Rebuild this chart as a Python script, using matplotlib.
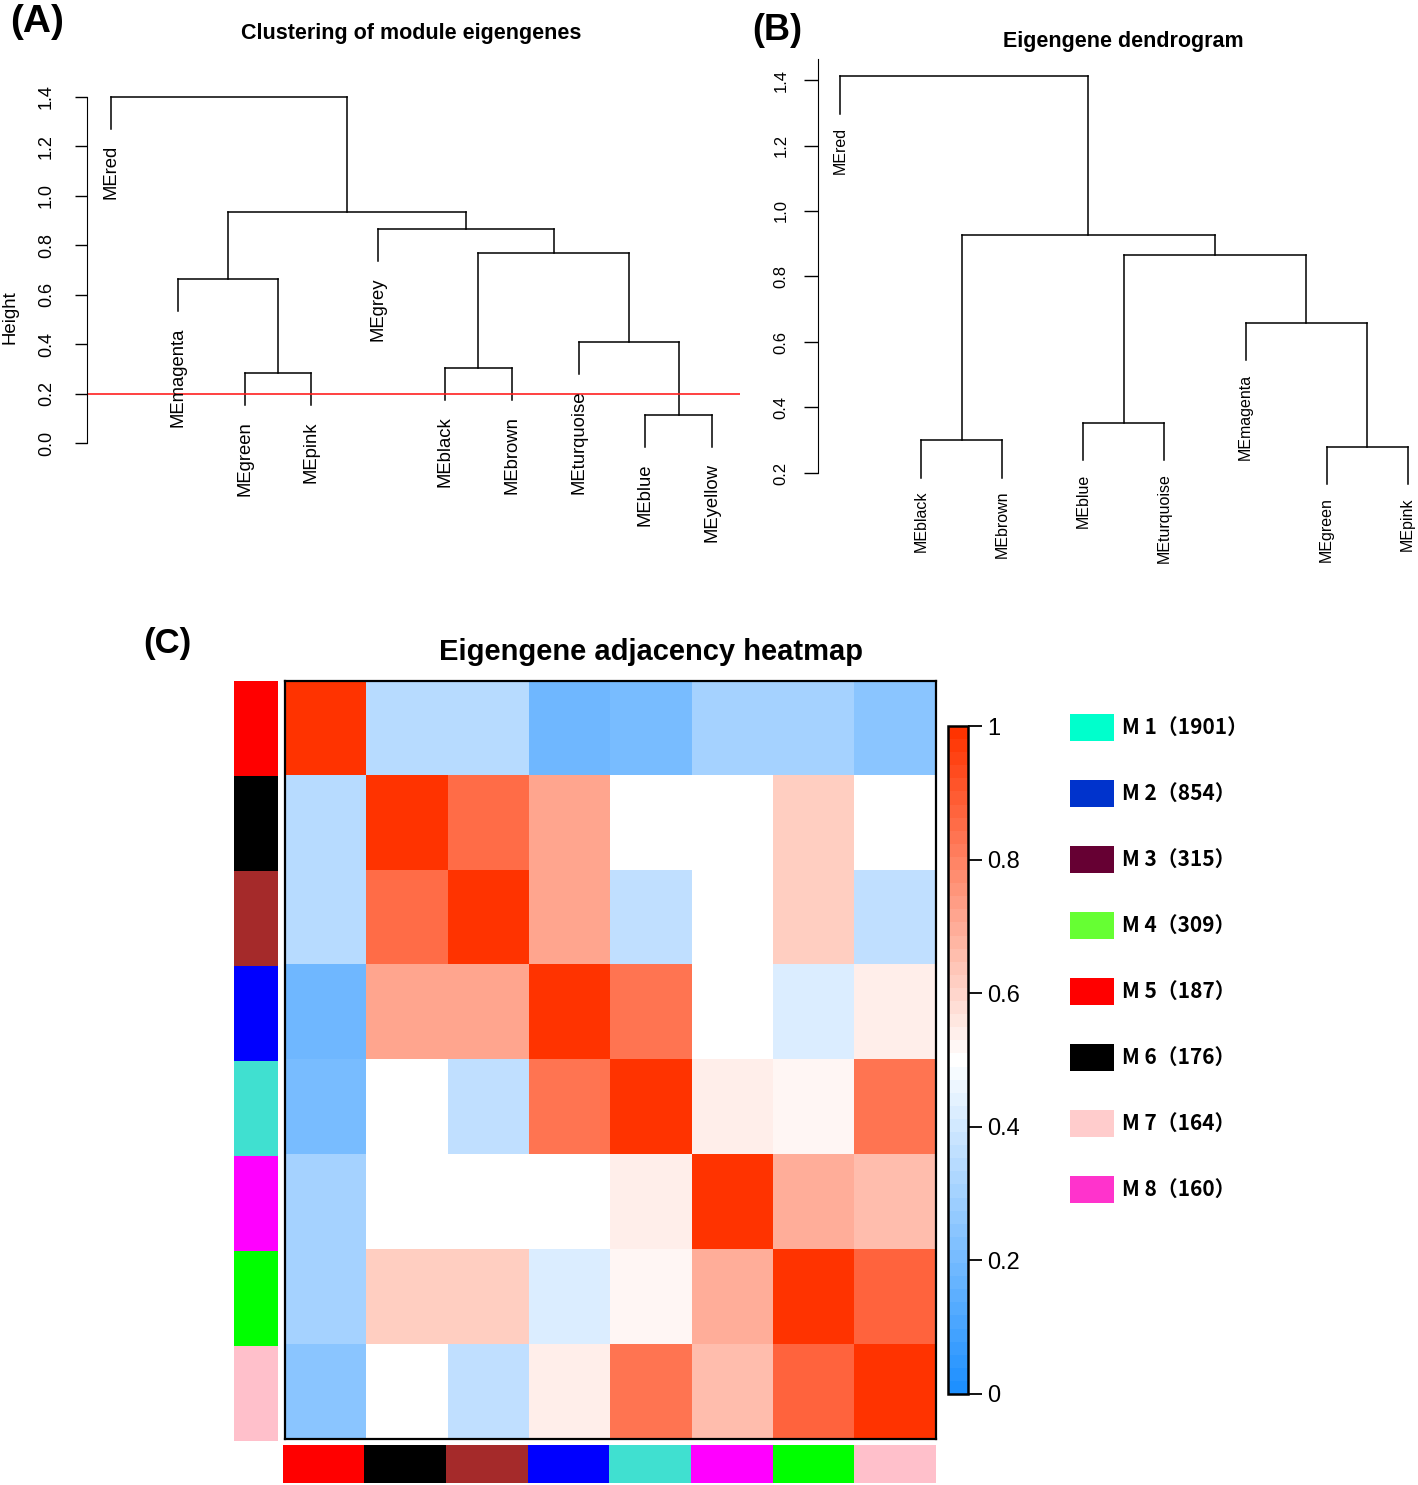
import numpy as np
import matplotlib
matplotlib.use("Agg")
import matplotlib.pyplot as plt
from matplotlib import patches
from matplotlib.colors import LinearSegmentedColormap, Normalize
from matplotlib.cm import ScalarMappable

# ---- data ----
# (A) clustering of module eigengenes, R hclust style merges
leaves_a = ["MEred", "MEmagenta", "MEgreen", "MEpink", "MEgrey",
            "MEblack", "MEbrown", "MEturquoise", "MEblue", "MEyellow"]
merges_a = [(-3, -4, 0.282), (-2, 1, 0.663), (-9, -10, 0.114), (-8, 3, 0.409),
            (-6, -7, 0.305), (5, 4, 0.767), (-5, 6, 0.865), (2, 7, 0.935),
            (-1, 8, 1.40)]
cut_height = 0.2

# (B) eigengene dendrogram
leaves_b = ["MEred", "MEblack", "MEbrown", "MEblue", "MEturquoise",
            "MEmagenta", "MEgreen", "MEpink"]
merges_b = [(-7, -8, 0.28), (-2, -3, 0.30), (-4, -5, 0.353), (-6, 1, 0.658),
            (3, 4, 0.866), (2, 5, 0.9275), (-1, 6, 1.411)]

# (C) adjacency heatmap
module_cols = ["#FF0000", "#000000", "#A52A2A", "#0000FF",
               "#40E0D0", "#FF00FF", "#00FF00", "#FFC0CB"]
adjacency = np.array([
    [1.00, 0.34, 0.34, 0.19, 0.21, 0.30, 0.30, 0.25],
    [0.34, 1.00, 0.85, 0.71, 0.50, 0.50, 0.61, 0.50],
    [0.34, 0.85, 1.00, 0.71, 0.37, 0.50, 0.61, 0.37],
    [0.19, 0.71, 0.71, 1.00, 0.83, 0.50, 0.43, 0.54],
    [0.21, 0.50, 0.37, 0.83, 1.00, 0.54, 0.52, 0.83],
    [0.30, 0.50, 0.50, 0.50, 0.54, 1.00, 0.69, 0.65],
    [0.30, 0.61, 0.61, 0.43, 0.52, 0.69, 1.00, 0.875],
    [0.25, 0.50, 0.37, 0.54, 0.83, 0.65, 0.875, 1.00],
])

# legend of modules
module_ids = [1, 2, 3, 4, 5, 6, 7, 8]
module_sizes = [1901, 854, 315, 309, 187, 176, 164, 160]
legend_cols = ["#00FFCC", "#0033CC", "#660033", "#66FF33",
               "#FF0000", "#000000", "#FFCCCC", "#FF33CC"]

W, H = 1418, 1485
RFONT = ["Liberation Sans", "DejaVu Sans"]
plt.rcParams["font.family"] = RFONT


def px_axes(fig, x0, y0, x1, y1):
    return fig.add_axes([x0 / W, 1 - y1 / H, (x1 - x0) / W, (y1 - y0) / H])


def set_px_limits(ax, box, x_px0, x_step, y_px0, y_val0, y_scale):
    x0, y0, x1, y1 = box
    ax.set_xlim((x0 - x_px0) / x_step, (x1 - x_px0) / x_step)
    ax.set_ylim(y_val0 + (y_px0 - y1) / y_scale, y_val0 + (y_px0 - y0) / y_scale)


def draw_dendro(ax, leaves, merges, hang, gap, fs, lw=1.1):
    pos = {}
    tips = {}
    for k, (a, b, h) in enumerate(merges, start=1):
        xs = []
        for c in (a, b):
            if c < 0:
                x = -c - 1
                ax.plot([x, x], [h - hang, h], color="k", lw=lw)
                tips[x] = h - hang
            else:
                x, ch = pos[c]
                ax.plot([x, x], [ch, h], color="k", lw=lw)
            xs.append(x)
        ax.plot(xs, [h, h], color="k", lw=lw)
        pos[k] = ((xs[0] + xs[1]) / 2, h)
    for i, name in enumerate(leaves):
        ax.text(i, tips[i] - gap, name, rotation=90, ha="center", va="top",
                fontsize=fs)


fig = plt.figure(figsize=(W / 100, H / 100), dpi=100)

# overlay for free text and legend
ov = fig.add_axes([0, 0, 1, 1])
ov.set_xlim(0, W)
ov.set_ylim(H, 0)
ov.axis("off")

ov.text(37, 22, "(A)", fontsize=28, fontweight="bold", ha="center", va="center")
ov.text(777, 31, "(B)", fontsize=26, fontweight="bold", ha="center", va="center")
ov.text(167, 643, "(C)", fontsize=25, fontweight="bold", ha="center", va="center")
ov.text(411, 33, "Clustering of module eigengenes", fontsize=15.5,
        fontweight="bold", ha="center", va="center")
ov.text(1123, 41, "Eigengene dendrogram", fontsize=15.5,
        fontweight="bold", ha="center", va="center")
ov.text(651, 652, "Eigengene adjacency heatmap", fontsize=21,
        fontweight="bold", ha="center", va="center")
ov.text(10, 317, "Height", fontsize=13.4, rotation=90, ha="center", va="center")

# ---- (A) ----
box_a = (87, 60, 740, 560)
ax_a = px_axes(fig, *box_a)
set_px_limits(ax_a, box_a, 111, 66.8, 443, 0.0, 247.1)
draw_dendro(ax_a, leaves_a, merges_a, hang=0.13, gap=0.065, fs=13.3)
ax_a.axhline(cut_height, color="#FF2020", lw=1.2)
for s in ["top", "right", "bottom"]:
    ax_a.spines[s].set_visible(False)
ax_a.spines["left"].set_bounds(0, 1.4)
ax_a.set_xticks([])
ax_a.set_yticks(np.arange(0, 1.41, 0.2))
ax_a.set_yticklabels(["%.1f" % v for v in np.arange(0, 1.41, 0.2)])
ax_a.tick_params(axis="y", length=9, width=1, pad=14, labelsize=13,
                 labelrotation=90)
for t in ax_a.get_yticklabels():
    t.set_va("center")
ax_a.patch.set_alpha(0)

# ---- (B) ----
box_b = (818, 50, 1418, 565)
ax_b = px_axes(fig, *box_b)
set_px_limits(ax_b, box_b, 840, 81.1, 473, 0.2, 327.5)
draw_dendro(ax_b, leaves_b, merges_b, hang=0.114, gap=0.04, fs=11.5)
for s in ["top", "right", "bottom"]:
    ax_b.spines[s].set_visible(False)
ax_b.spines["left"].set_bounds(0.2, 1.464)
ax_b.set_xticks([])
ax_b.set_yticks(np.arange(0.2, 1.41, 0.2))
ax_b.set_yticklabels(["%.1f" % v for v in np.arange(0.2, 1.41, 0.2)])
ax_b.tick_params(axis="y", length=10, width=1, pad=11, labelsize=12,
                 labelrotation=90)
for t in ax_b.get_yticklabels():
    t.set_va("center")
ax_b.patch.set_alpha(0)

# ---- (C) heatmap ----
cmap = LinearSegmentedColormap.from_list("bwr2", ["#1E90FF", "#FFFFFF", "#FF3300"], N=51)
norm = Normalize(0, 1)

ax_h = px_axes(fig, 285, 681, 936, 1439)
ax_h.imshow(adjacency, cmap=cmap, norm=norm, aspect="auto", interpolation="nearest")
ax_h.set_xticks([])
ax_h.set_yticks([])
for s in ax_h.spines.values():
    s.set_linewidth(1.6)

rgb = np.array([matplotlib.colors.to_rgb(c) for c in module_cols])
ax_l = px_axes(fig, 234, 681, 278, 1441)
ax_l.imshow(rgb[:, None, :], aspect="auto", interpolation="nearest")
ax_l.axis("off")

ax_bt = px_axes(fig, 283, 1445, 936, 1483)
ax_bt.imshow(rgb[None, :, :], aspect="auto", interpolation="nearest")
ax_bt.axis("off")

cax = px_axes(fig, 948, 726, 968, 1394)
cb = fig.colorbar(ScalarMappable(norm=norm, cmap=cmap), cax=cax)
cb.outline.set_linewidth(1.8)
cb.set_ticks([0, 0.2, 0.4, 0.6, 0.8, 1.0])
cb.set_ticklabels(["0", "0.2", "0.4", "0.6", "0.8", "1"])
cax.tick_params(length=10, width=1.3, pad=4, labelsize=17)

# module legend
for i, (mid, size, col) in enumerate(zip(module_ids, module_sizes, legend_cols)):
    cy = 727 + 66 * i
    ov.add_patch(patches.Rectangle((1070, cy - 13.5), 44, 27, facecolor=col,
                                   edgecolor="none"))
    ov.text(1122, cy, "M %d（%d）" % (mid, size), fontsize=15, fontweight="bold",
            ha="left", va="center", family=["Noto Sans CJK SC", "DejaVu Sans"])

fig.savefig("out.png", dpi=100)
